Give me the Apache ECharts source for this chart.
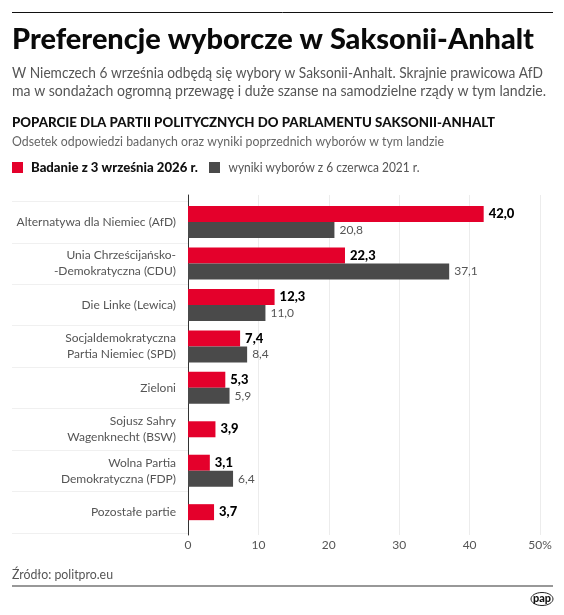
<!DOCTYPE html>
<html><head><meta charset="utf-8">
<style>html,body{margin:0;padding:0;background:#fff}#c{width:564px;height:615px}</style>
<script src="https://cdn.jsdelivr.net/npm/echarts@6/dist/echarts.min.js"></script>
</head><body><div id="c"></div>
<script>
const categories = ['Alternatywa dla Niemiec (AfD)','Unia Chrześcijańsko-\n-Demokratyczna (CDU)','Die Linke (Lewica)','Socjaldemokratyczna\nPartia Niemiec (SPD)','Zieloni','Sojusz Sahry\nWagenknecht (BSW)','Wolna Partia\nDemokratyczna (FDP)','Pozostałe partie'];
const survey2026 = [42.0,22.3,12.3,7.4,5.3,3.9,3.1,3.7];
const election2021 = [20.8,37.1,11.0,8.4,5.9,null,6.4,null];
const RED='#e4002b', GRAY='#4a4a4a', FONT='Lato, "Noto Sans", sans-serif';
const fmt = v => v.toFixed(1).replace('.',',');
const paired = survey2026.map((v,i)=>election2021[i]==null?null:v);
const single = survey2026.map((v,i)=>election2021[i]==null?v:null);
const boldLabel = {show:true,position:'right',distance:5,fontFamily:FONT,fontSize:13,fontWeight:900,color:'#000',formatter:p=>fmt(p.value)};
const ctx=document.createElement('canvas').getContext('2d');
// text stretched horizontally to the width it occupies in the reference
const fit=(x,cy,t,size,weight,color,width)=>{
  const font=`${weight} ${size}px ${FONT}`;
  ctx.font=font;
  return {type:'text',x:x,y:cy,scaleX:width/ctx.measureText(t).width,
    style:{text:t,x:0,y:0,font:font,fill:color,verticalAlign:'middle',align:'left'}};
};
const chart=echarts.init(document.getElementById('c'),null,{renderer:'canvas'});
chart.setOption({
  animation:false,
  backgroundColor:'#fff',
  grid:[
    {left:188,right:24,top:195,height:340},
    {left:188,right:24,top:201.3,height:331.6}
  ],
  xAxis:[
    {gridIndex:0,type:'value',min:0,max:50,interval:10,
      axisLine:{show:false},axisTick:{show:false},
      axisLabel:{margin:4,fontFamily:FONT,fontSize:12,color:'#555',formatter:v=>v===50?'50%':String(v)},
      splitLine:{show:true,lineStyle:{color:'#ececec',width:1}}},
    {gridIndex:1,type:'value',min:0,max:50,show:false}
  ],
  yAxis:[
    {gridIndex:0,type:'category',data:[''],axisLabel:{show:false},axisTick:{show:false},
      axisLine:{show:true,lineStyle:{color:'#333',width:1}}},
    {gridIndex:1,type:'category',inverse:true,data:categories,
      axisLine:{show:false},
      axisTick:{show:true,length:176,lineStyle:{color:'#f0f0f0'}},
      axisLabel:{margin:12,fontFamily:FONT,fontSize:12,lineHeight:16,color:'#555',align:'right'}},
    {gridIndex:1,type:'category',inverse:true,data:categories,show:false}
  ],
  series:[
    {name:'Badanie z 3 września 2026 r.',type:'bar',xAxisIndex:1,yAxisIndex:1,data:paired,barWidth:16,barGap:'0%',itemStyle:{color:RED},label:boldLabel},
    {name:'wyniki wyborów z 6 czerwca 2021 r.',type:'bar',xAxisIndex:1,yAxisIndex:1,data:election2021,barWidth:16,itemStyle:{color:GRAY},
      label:{show:true,position:'right',distance:5,fontFamily:FONT,fontSize:12,color:'#555',formatter:p=>fmt(p.value)}},
    {name:'Badanie z 3 września 2026 r.',type:'bar',xAxisIndex:1,yAxisIndex:2,data:single,barWidth:16,itemStyle:{color:RED},label:boldLabel}
  ],
  graphic:[
    {type:'rect',shape:{x:11,y:199,width:176,height:4},style:{fill:'#fff'}},
    {type:'rect',shape:{x:11,y:531,width:176,height:4},style:{fill:'#fff'}},
    {type:'line',shape:{x1:12,y1:12.5,x2:553,y2:12.5},style:{stroke:'#111',lineWidth:1}},
    fit(12,40,'Preferencje wyborcze w Saksonii-Anhalt',28.5,900,'#0a0a0a',522),
    fit(12,73,'W Niemczech 6 września odbędą się wybory w Saksonii-Anhalt. Skrajnie prawicowa AfD',14.5,400,'#555',531),
    fit(12,91,'ma w sondażach ogromną przewagę i duże szanse na samodzielne rządy w tym landzie.',14.5,400,'#555',534),
    fit(12,122.5,'POPARCIE DLA PARTII POLITYCZNYCH DO PARLAMENTU SAKSONII-ANHALT',13,900,'#111',483),
    fit(12,141.5,'Odsetek odpowiedzi badanych oraz wyniki poprzednich wyborów w tym landzie',12.5,400,'#666',432),
    {type:'rect',shape:{x:12,y:162,width:11,height:11},style:{fill:RED}},
    fit(31,167.5,'Badanie z 3 września 2026 r.',13,900,'#111',167),
    {type:'rect',shape:{x:209,y:162,width:11,height:11},style:{fill:GRAY}},
    fit(228.5,167.5,'wyniki wyborów z 6 czerwca 2021 r.',12.5,400,'#555',191),
    fit(12,575,'Źródło: politpro.eu',13.5,400,'#555',101),
    {type:'line',shape:{x1:12,y1:586,x2:553,y2:586},style:{stroke:'#333',lineWidth:1.2}},
    {type:'ellipse',shape:{cx:542,cy:599,rx:11,ry:6.5},style:{fill:'#fff',stroke:'#222',lineWidth:1}},
    fit(533,598.5,'pap',12,900,'#111',18)
  ]
});
</script></body></html>
